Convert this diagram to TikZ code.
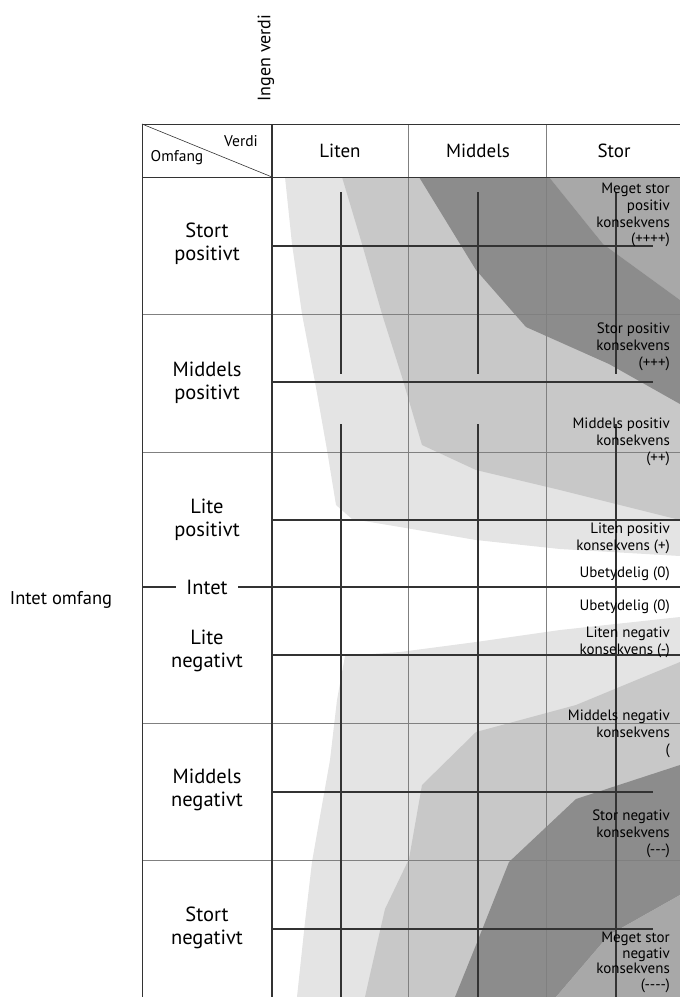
\documentclass[tikz,border=0pt]{standalone}
\usepackage{fontspec}
\setmainfont{PT Sans}
\usetikzlibrary{positioning}
\definecolor{Lys}{HTML}{E4E4E4}
\definecolor{Halv}{HTML}{C8C8C8}
\definecolor{Mork}{HTML}{A8A8A8}
\definecolor{Morkest}{HTML}{8C8C8C}
\definecolor{Strek}{HTML}{333333}

\begin{document}
\begin{tikzpicture}[x=1pt,y=-1pt,
  rad/.style={font=\fontsize{20.5}{23}\selectfont,align=center},
  kol/.style={font=\fontsize{19}{21}\selectfont},
  kons/.style={font=\fontsize{15}{16.7}\selectfont,align=right,anchor=north east,inner sep=0pt},
  tykk/.style={Strek,line width=2.2pt},
  tynn/.style={gray,line width=0.5pt}]
\useasboundingbox (0,0) rectangle (680,997);
% skygge, positiv side
\fill[Lys] (285,177) -- (292,244) -- (302,314) -- (315,382) -- (327,450) -- (336,505) -- (352,519) -- (400,527) -- (476,540) -- (560,549) -- (680,556) -- (680,177) -- cycle;
\fill[Halv] (342,177) -- (362,244) -- (382,314) -- (402,377) -- (422,445) -- (476,470) -- (560,490) -- (680,520) -- (680,177) -- cycle;
\fill[Mork] (549,177) -- (603,244) -- (680,300) -- (680,177) -- cycle;
\fill[Morkest] (419,177) -- (549,177) -- (603,244) -- (680,300) -- (680,404) -- (609,364) -- (526,327) -- (476,270) -- cycle;
% skygge, negativ side
\fill[Lys] (680,617) -- (560,630) -- (476,642) -- (400,652) -- (345,656) -- (337,700) -- (330,760) -- (319,822) -- (312,862) -- (305,922) -- (297,997) -- (680,997) -- cycle;
\fill[Halv] (680,662) -- (576,705) -- (476,732) -- (422,785) -- (409,859) -- (385,909) -- (369,979) -- (365,997) -- (680,997) -- cycle;
\fill[Morkest] (455,997) -- (476,945) -- (509,862) -- (576,799) -- (680,765) -- (680,895) -- (609,935) -- (556,997) -- cycle;
\fill[Mork] (556,997) -- (609,935) -- (680,895) -- (680,997) -- cycle;
% tynne linjer
\foreach \y in {314,452,723,860}
  \draw[tynn] (142,\y) -- (680,\y);
\foreach \x in {408,546}
  \draw[tynn] (\x,124) -- (\x,997);
\draw[Strek,line width=.6pt] (142,124) -- (680,124);
\draw[Strek,line width=.6pt] (142,177) -- (680,177);
\draw[Strek,line width=.8pt] (142,124) -- (142,997);
\draw[Strek,line width=.6pt] (142,124) -- (272,177);
% tykke linjer
\foreach \x in {341,478,616} {
  \draw[tykk] (\x,192) -- (\x,374);
  \draw[tykk] (\x,424) -- (\x,997);
}
\foreach \y in {246,382,792,929}
  \draw[tykk] (272,\y) -- (653,\y);
\foreach \y in {520,587,655}
  \draw[tykk] (272,\y) -- (680,\y);
\draw[tykk] (142,587) -- (176,587);
\draw[tykk] (238,587) -- (272,587);
\draw[Strek,line width=2.6pt] (272,124) -- (272,997);
% overskrifter
\node[rotate=90,font=\fontsize{18}{20}\selectfont] (ingen) at (266,58) {Ingen verdi};
\node[font=\fontsize{15.5}{17}\selectfont] (verdi) at (241,141) {Verdi};
\node[font=\fontsize{15.5}{17}\selectfont] (omfang) at (177,158) {Omfang};
\node[kol] (liten) at (340,151) {Liten};
\node[kol] (middels) at (478,151) {Middels};
\node[kol] (stor) at (614,151) {Stor};
% omfang
\node[rad] (stortpos) at (207,244) {Stort\\positivt};
\node[rad] (middelspos) at (207,383) {Middels\\positivt};
\node[rad] (litepos) at (207,520) {Lite\\positivt};
\node[rad] (intet) at (207,587) {Intet};
\node[rad] (litneg) at (207,651) {Lite\\negativt};
\node[rad] (middelsneg) at (207,790) {Middels\\negativt};
\node[rad] (stortneg) at (207,928) {Stort\\negativt};
\node[font=\fontsize{18.5}{20}\selectfont] (intetomfang) at (61,600) {Intet omfang};
% konsekvenser
\node[kons] (megetpos) at (670,183) {Meget stor\\positiv\\konsekvens\\(++++)};
\node[kons] (storpos) at (670,323) {Stor positiv\\konsekvens\\(+++)};
\node[kons] (middpos) at (670,418) {Middels positiv\\konsekvens\\(++)};
\node[kons] (litenpos) at (670,523) {Liten positiv\\konsekvens (+)};
\node[kons] (ubet1) at (670,567) {Ubetydelig (0)};
\node[kons] (ubet2) at (670,600) {Ubetydelig (0)};
\node[kons] (litenneg) at (670,627) {Liten negativ\\konsekvens (-)};
\node[kons] (middneg) at (670,710) {Middels negativ\\konsekvens\\(};
\node[kons] (storneg) at (670,810) {Stor negativ\\konsekvens\\(-{}-{}-)};
\node[kons,font=\fontsize{15}{15.5}\selectfont] (megetneg) at (670,932) {Meget stor\\negativ\\konsekvens\\(-{}-{}-{}-)};
\end{tikzpicture}
\end{document}
